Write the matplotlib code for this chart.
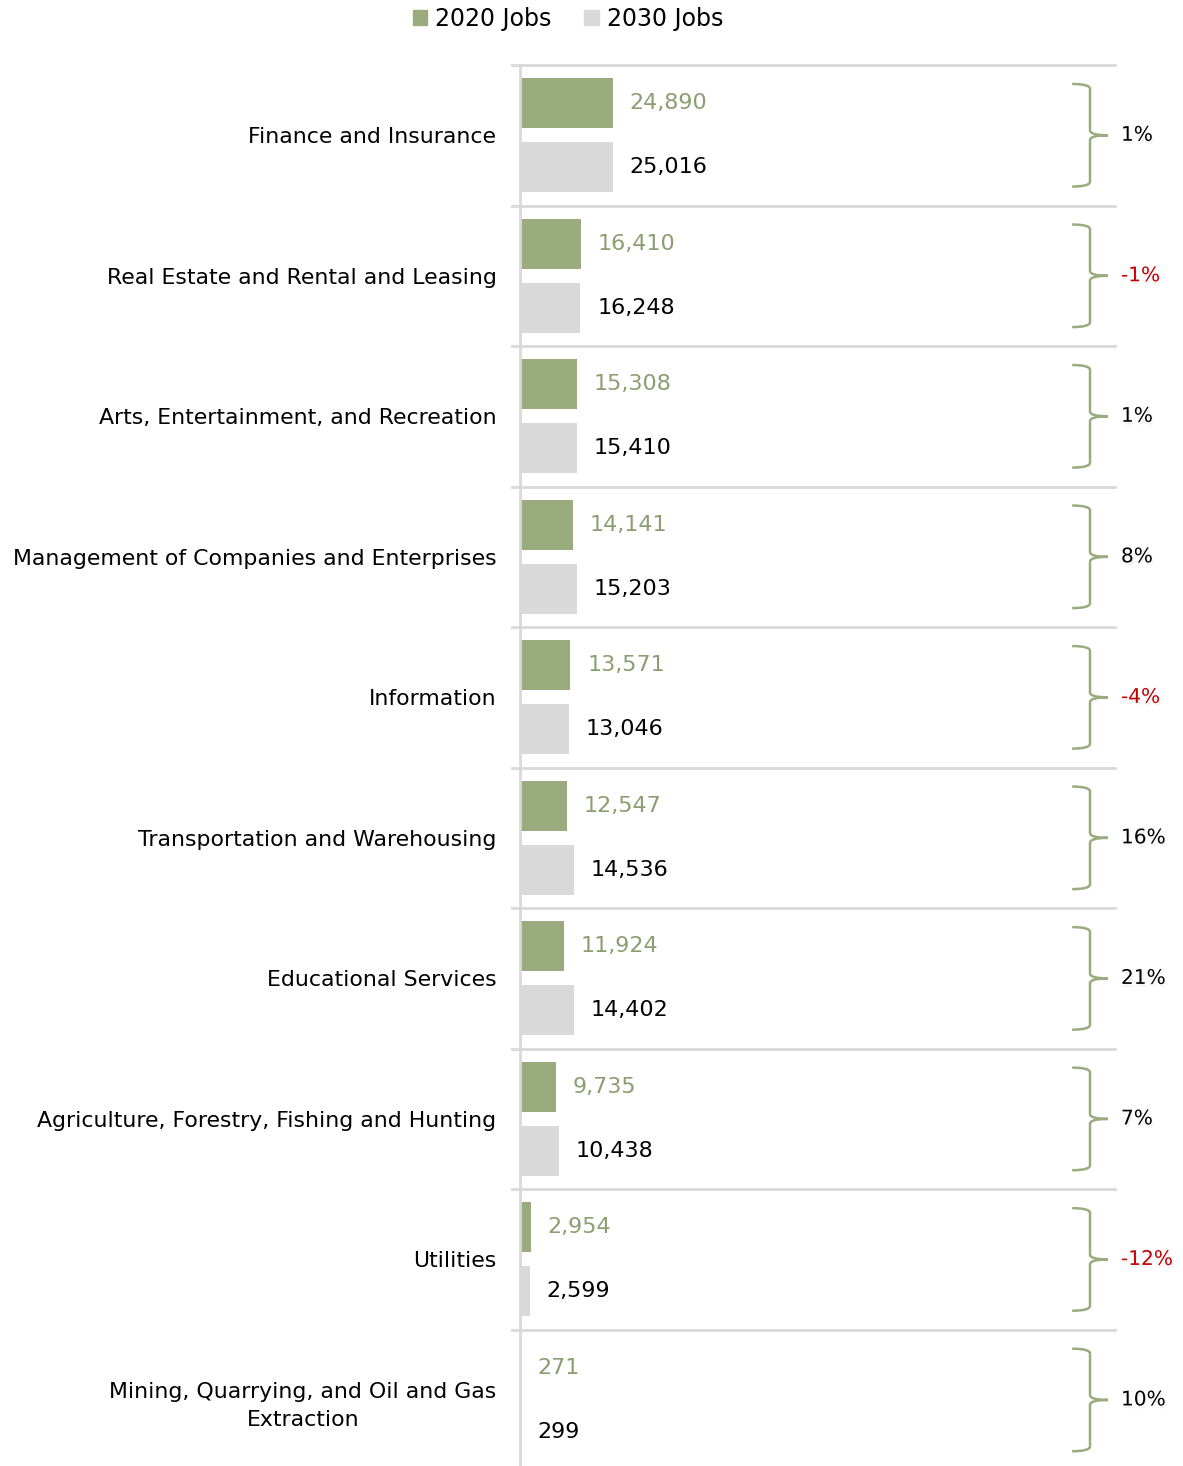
import numpy as np
import matplotlib.pyplot as plt
from matplotlib.path import Path
from matplotlib.patches import PathPatch, Patch
import matplotlib.transforms as mtransforms
import matplotlib.patheffects as pe

plt.rcParams['font.family'] = ['DejaVu Sans']

categories = [
    'Finance and Insurance',
    'Real Estate and Rental and Leasing',
    'Arts, Entertainment, and Recreation',
    'Management of Companies and Enterprises',
    'Information',
    'Transportation and Warehousing',
    'Educational Services',
    'Agriculture, Forestry, Fishing and Hunting',
    'Utilities',
    'Mining, Quarrying, and Oil and Gas\nExtraction',
]
jobs_2020 = [24890, 16410, 15308, 14141, 13571, 12547, 11924, 9735, 2954, 271]
jobs_2030 = [25016, 16248, 15410, 15203, 13046, 14536, 14402, 10438, 2599, 299]
pct_change = ['1%', '-1%', '1%', '8%', '-4%', '16%', '21%', '7%', '-12%', '10%']

green = '#9aab7e'
green_txt = '#8a9e70'
grey = '#d9d9d9'
line_grey = '#d9d9d9'
red = '#c00000'

fig = plt.figure(figsize=(11.83, 14.66), dpi=100)
ax = fig.add_axes([520 / 1183, 0, 595 / 1183, 1 - 65 / 1466])

y = np.arange(len(categories))
off = 0.228
h = 0.356
b1 = ax.barh(y - off, jobs_2020, height=h, color=green)
b2 = ax.barh(y + off, jobs_2030, height=h, color=grey)

ax.bar_label(b1, labels=[f'{v:,}' for v in jobs_2020], padding=12,
             color=green_txt, fontsize=16)
ax.bar_label(b2, labels=[f'{v:,}' for v in jobs_2030], padding=12,
             color='black', fontsize=16)

ax.set_xlim(0, 160000)
ax.set_ylim(len(categories) - 0.53, -0.5)
ax.set_xticks([])
ax.set_yticks(y)
ax.set_yticklabels(categories, fontsize=15.8, multialignment='center',
                   linespacing=1.5)
ax.tick_params(axis='y', length=0, pad=17)

for s in ['top', 'right', 'bottom']:
    ax.spines[s].set_visible(False)
ax.spines['left'].set_color(line_grey)
ax.spines['left'].set_linewidth(2)

# row separators
for yy in np.arange(-0.5, len(categories) - 1, 1.0):
    ax.axhline(yy, xmin=-0.0134, xmax=1.0, color=line_grey, lw=2, clip_on=False)

# braces + percent change
trans = mtransforms.blended_transform_factory(ax.transAxes, ax.transData)
x0, x1, x2 = 0.928, 0.958, 0.988
bh = 0.365
r = 0.035
for i, p in enumerate(pct_change):
    top, bot = i - bh, i + bh
    verts = [(x0, top), (x1, top), (x1, top + r),
             (x1, i - r), (x1, i), (x2, i),
             (x2, i), (x1, i), (x1, i + r),
             (x1, bot - r), (x1, bot), (x0, bot)]
    codes = [Path.MOVETO, Path.CURVE3, Path.CURVE3,
             Path.LINETO, Path.CURVE3, Path.CURVE3,
             Path.MOVETO, Path.CURVE3, Path.CURVE3,
             Path.LINETO, Path.CURVE3, Path.CURVE3]
    ax.add_patch(PathPatch(Path(verts, codes), transform=trans, fill=False,
                           edgecolor=green, lw=1.8, clip_on=False))
    col = red if p.startswith('-') else 'black'
    ax.text(1.01, i, p, transform=trans, ha='left', va='center',
            fontsize=14.5, color=col, clip_on=False,
            path_effects=[pe.withSimplePatchShadow(offset=(1, -2),
                                                   shadow_rgbFace='#999999',
                                                   alpha=0.12)])

handles = [Patch(color=green, label='2020 Jobs'), Patch(color=grey, label='2030 Jobs')]
fig.legend(handles=handles, loc='upper center', bbox_to_anchor=(0.48, 1.01),
           ncol=2, frameon=False, fontsize=17, handlelength=0.6,
           handleheight=0.6, handletextpad=0.35, columnspacing=1.4)

fig.savefig('out.png', dpi=100)
